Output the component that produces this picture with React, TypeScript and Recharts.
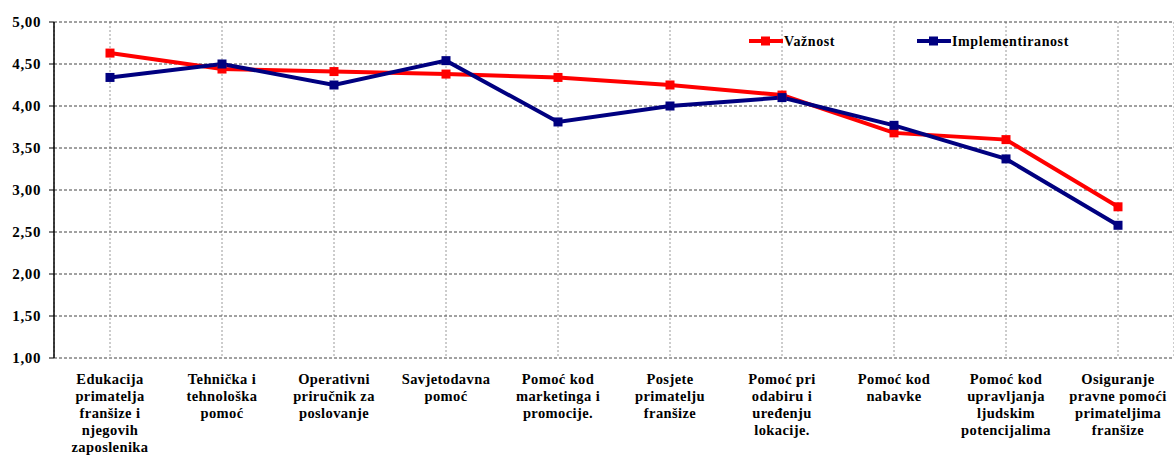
import React from 'react';
import { LineChart, Line, XAxis, YAxis, CartesianGrid } from 'recharts';

const categories: string[][] = [
  ['Edukacija', 'primatelja', 'franšize i', 'njegovih', 'zaposlenika'],
  ['Tehnička i', 'tehnološka', 'pomoć'],
  ['Operativni', 'priručnik za', 'poslovanje'],
  ['Savjetodavna', 'pomoć'],
  ['Pomoć kod', 'marketinga i', 'promocije.'],
  ['Posjete', 'primatelju', 'franšize'],
  ['Pomoć pri', 'odabiru i', 'uređenju', 'lokacije.'],
  ['Pomoć kod', 'nabavke'],
  ['Pomoć kod', 'upravljanja', 'ljudskim', 'potencijalima'],
  ['Osiguranje', 'pravne pomoći', 'primateljima', 'franšize'],
];

const vaznost = [4.63, 4.44, 4.41, 4.38, 4.34, 4.25, 4.13, 3.68, 3.60, 2.80];
const implementiranost = [4.34, 4.50, 4.25, 4.54, 3.81, 4.00, 4.10, 3.77, 3.37, 2.58];
const yTicks = [1, 1.5, 2, 2.5, 3, 3.5, 4, 4.5, 5];

const seriesNames = ['Važnost', 'Implementiranost'];
const seriesColors = ['#FF0000', '#000080'];

const data = categories.map((c, i) => ({
  key: String(i),
  v: vaznost[i],
  m: implementiranost[i],
}));

const FONT = '"Liberation Serif", "Times New Roman", serif';

const XTick = (props: any) => {
  const { x, y, payload } = props;
  const lines = categories[Number(payload.value)] || [];
  return (
    <g>
      {lines.map((l, i) => (
        <text
          key={i}
          x={x}
          y={y + 18 + i * 17}
          textAnchor="middle"
          fontFamily={FONT}
          fontWeight="bold"
          fontSize={14.5}
          letterSpacing={0.4}
          fill="#000"
        >
          {l}
        </text>
      ))}
    </g>
  );
};

const YTick = (props: any) => {
  const { x, y, payload } = props;
  return (
    <text
      x={x}
      y={y + 5}
      textAnchor="end"
      fontFamily={FONT}
      fontWeight="bold"
      fontSize={15}
      letterSpacing={0.6}
      fill="#000"
    >
      {Number(payload.value).toFixed(2).replace('.', ',')}
    </text>
  );
};

const makeDot = (color: string) => (props: any) => {
  const { cx, cy, index } = props;
  return <rect key={index} x={cx - 4.5} y={cy - 4.5} width={9} height={9} fill={color} />;
};

const LegendOverlay = () => {
  const items = [
    { x: 749, label: seriesNames[0], color: seriesColors[0] },
    { x: 917, label: seriesNames[1], color: seriesColors[1] },
  ];
  return (
    <svg
      width={1174}
      height={30}
      style={{ position: 'absolute', left: 0, top: 26, display: 'block', pointerEvents: 'none' }}
    >
      {items.map((it) => (
        <g key={it.label}>
          <line x1={it.x} x2={it.x + 34} y1={15} y2={15} stroke={it.color} strokeWidth={4} />
          <rect x={it.x + 12} y={10.5} width={9} height={9} fill={it.color} />
          <text
            x={it.x + 35}
            y={20}
            fontFamily={FONT}
            fontWeight="bold"
            fontSize={14}
            letterSpacing={0.6}
            fill="#000"
          >
            {it.label}
          </text>
        </g>
      ))}
    </svg>
  );
};

export default function App() {
  return (
    <div style={{ position: 'absolute', left: 0, top: 0, width: 1174, height: 459, background: '#fff' }}>
      <LineChart
        width={1174}
        height={459}
        data={data}
        margin={{ top: 22, right: 0, bottom: 0, left: 0 }}
      >
        <CartesianGrid horizontal={false} vertical={true} stroke="#9a9a9a" strokeDasharray="2 2" />
        <CartesianGrid horizontal={true} vertical={false} stroke="#444" strokeDasharray="3 2" />
        <XAxis
          dataKey="key"
          axisLine={false}
          tickLine={false}
          height={101}
          interval={0}
          padding={{ left: 56, right: 56 }}
          tick={<XTick />}
        />
        <YAxis
          width={54}
          domain={[1, 5]}
          ticks={yTicks}
          interval={0}
          axisLine={{ stroke: '#000', strokeWidth: 1.5 }}
          tickLine={{ stroke: '#000' }}
          tickSize={5}
          tickMargin={8}
          tick={<YTick />}
        />
        <Line
          dataKey="v"
          name={seriesNames[0]}
          stroke={seriesColors[0]}
          strokeWidth={4}
          dot={makeDot(seriesColors[0])}
          activeDot={false}
          isAnimationActive={false}
        />
        <Line
          dataKey="m"
          name={seriesNames[1]}
          stroke={seriesColors[1]}
          strokeWidth={4}
          dot={makeDot(seriesColors[1])}
          activeDot={false}
          isAnimationActive={false}
        />
      </LineChart>
      <LegendOverlay />
    </div>
  );
}
